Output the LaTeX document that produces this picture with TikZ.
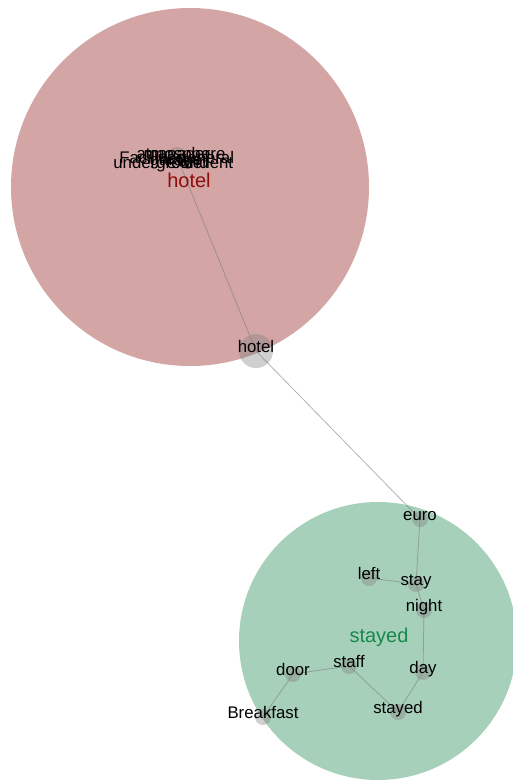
\documentclass[tikz,border=0pt]{standalone}
\usepackage{fontspec}
\setmainfont{Liberation Sans}

\definecolor{hotelpink}{HTML}{D3A5A5}
\definecolor{stayedgreen}{HTML}{A7D0BA}
\definecolor{hotelred}{HTML}{8E0E0E}
\definecolor{stayedtext}{HTML}{17894C}

\begin{document}
\begin{tikzpicture}[x=1pt,y=-1pt,
    group/.style={circle,inner sep=0pt},
    dot/.style={circle,fill=gray,fill opacity=0.38,inner sep=0pt,minimum size=16pt},
    word/.style={font=\fontsize{16.8}{17}\selectfont,inner sep=0pt,text height=11.5pt,text depth=4pt},
    title/.style={font=\fontsize{20}{20}\selectfont,inner sep=0pt,anchor=base},
    link/.style={draw=gray,line width=0.8pt,opacity=0.6}]
    \useasboundingbox (0,0) rectangle (513,782);
    \clip (0,0) rectangle (513,782);

    % the two communities
    \node[group,fill=hotelpink,minimum size=358pt] (hotelgroup) at (190,187) {};
    \node[group,fill=stayedgreen,minimum size=278pt] (stayedgroup) at (378,641) {};

    % term nodes
    \node[dot,minimum size=20pt] (hub) at (177,157) {};
    \node[dot,minimum size=34pt] (hotel) at (256,351) {};
    \foreach \n/\x/\y in {euro/420/519, stay/416/584, left/369/578, night/424/610,
            day/423/672, stayed/398/712, staff/349/666, door/293/674, Breakfast/263/717}
        \node[dot] (\n) at (\x,\y) {};

    % edges
    \draw[link] (hub.center) -- (hotel.center) -- (euro.center);
    \draw[link] (euro.center) -- (stay.center) -- (night.center) -- (day.center)
        -- (stayed.center) -- (staff.center) -- (door.center) -- (Breakfast.center);
    \draw[link] (left.center) -- (stay.center);

    % labels
    %\tikzset{every label/.style={word}}
    \foreach \n in {euro,stay,left,night,day,stayed,staff,door,Breakfast,hotel}
        \node[word] at ([yshift=2.5pt]\n.center) {\n};

    % crowded labels around the hub
    \node[word,anchor=base] at (177,159) {manager};
    \node[word,anchor=base] at (181,159) {atmosphere};
    \node[word,anchor=base] at (152,163) {Facilities};
    \node[word,anchor=base] at (206,163) {general};
    \node[word,anchor=base] at (176,165) {garage};
    \node[word,anchor=base] at (161,168) {underground};
    \node[word,anchor=base] at (200,168) {excellent};

    \node[title,text=hotelred] at (189,187) {hotel};
    \node[title,text=stayedtext] at (379,642) {stayed};
\end{tikzpicture}
\end{document}
